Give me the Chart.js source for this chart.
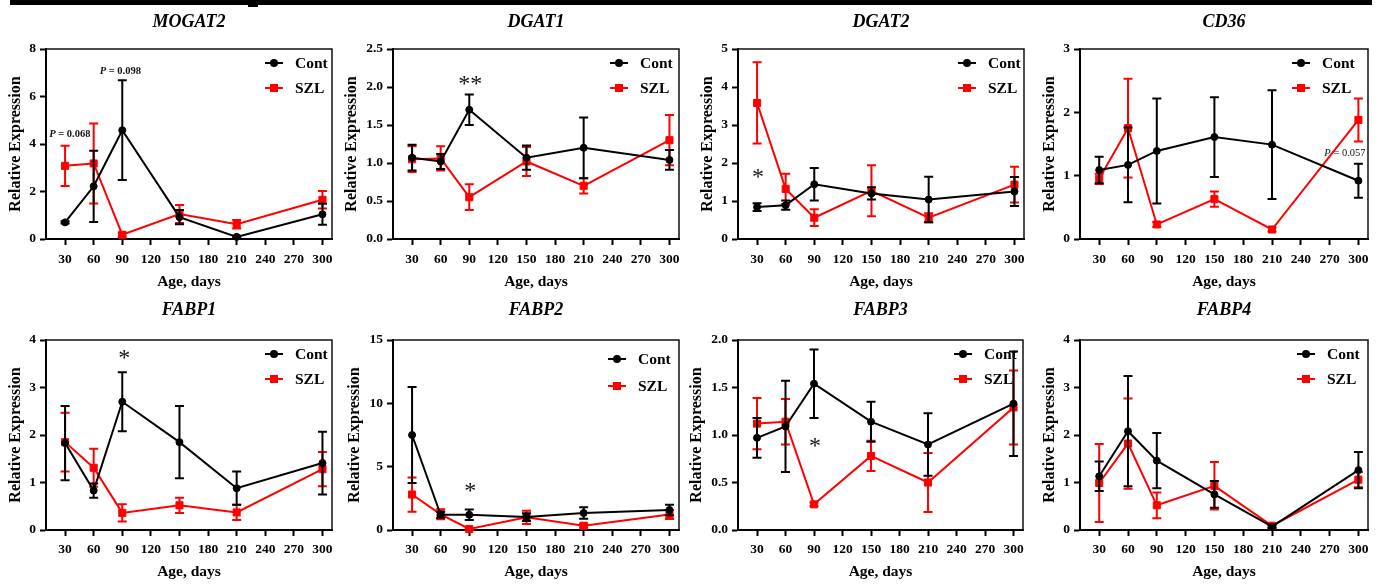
<!DOCTYPE html>
<html>
<head>
<meta charset="utf-8">
<title>Relative expression by age</title>
<script src="https://cdn.jsdelivr.net/npm/chart.js@4.4.0/dist/chart.umd.min.js"></script>
<style>
  html, body { margin: 0; padding: 0; background: #fff; }
  #sheet { position: relative; width: 1380px; height: 584px; overflow: hidden; background: #fff; }
  .rule { position: absolute; background: #000; }
  .panel { position: absolute; }
</style>
</head>
<body>
<div id="sheet">
  <div class="rule" style="left:10px;top:0;width:1362px;height:5px"></div>
  <div class="rule" style="left:248px;top:0;width:10px;height:7px"></div>
</div>
<script>
// ages sampled and x tick labels
const ages = [30, 60, 90, 150, 210, 300];
const xTicks = [30, 60, 90, 120, 150, 180, 210, 240, 270, 300];

// MOGAT2
const mogat2Cont = [0.70, 2.22, 4.58, 0.92, 0.09, 1.04];
const mogat2ContSd = [0.05, 1.50, 2.10, 0.30, 0.05, 0.44];
const mogat2Szl = [3.08, 3.18, 0.18, 1.05, 0.62, 1.65];
const mogat2SzlSd = [0.85, 1.68, 0.08, 0.38, 0.18, 0.37];
const mogat2YTicks = [0, 2, 4, 6, 8];

// DGAT1
const dgat1Cont = [1.07, 1.02, 1.70, 1.07, 1.20, 1.04];
const dgat1ContSd = [0.17, 0.10, 0.20, 0.16, 0.40, 0.13];
const dgat1Szl = [1.05, 1.06, 0.55, 1.02, 0.70, 1.30];
const dgat1SzlSd = [0.17, 0.16, 0.17, 0.19, 0.10, 0.33];
const dgat1YTicks = [0, 0.5, 1, 1.5, 2, 2.5];

// DGAT2
const dgat2Cont = [0.84, 0.89, 1.44, 1.20, 1.04, 1.25];
const dgat2ContSd = [0.10, 0.12, 0.43, 0.16, 0.60, 0.38];
const dgat2Szl = [3.58, 1.32, 0.56, 1.27, 0.56, 1.43];
const dgat2SzlSd = [1.07, 0.40, 0.22, 0.67, 0.12, 0.47];
const dgat2YTicks = [0, 1, 2, 3, 4, 5];

// CD36
const cd36Cont = [1.09, 1.17, 1.39, 1.61, 1.49, 0.92];
const cd36ContSd = [0.21, 0.59, 0.83, 0.63, 0.86, 0.27];
const cd36Szl = [0.95, 1.75, 0.23, 0.63, 0.15, 1.88];
const cd36SzlSd = [0.08, 0.78, 0.04, 0.12, 0.03, 0.34];
const cd36YTicks = [0, 1, 2, 3];

// FABP1
const fabp1Cont = [1.83, 0.83, 2.70, 1.85, 0.88, 1.41];
const fabp1ContSd = [0.78, 0.15, 0.62, 0.76, 0.35, 0.66];
const fabp1Szl = [1.85, 1.31, 0.36, 0.52, 0.37, 1.28];
const fabp1SzlSd = [0.62, 0.40, 0.18, 0.16, 0.16, 0.36];
const fabp1YTicks = [0, 1, 2, 3, 4];

// FABP2
const fabp2Cont = [7.50, 1.20, 1.20, 1.02, 1.34, 1.58];
const fabp2ContSd = [3.78, 0.25, 0.42, 0.30, 0.45, 0.42];
const fabp2Szl = [2.80, 1.24, 0.08, 1.00, 0.34, 1.22];
const fabp2SzlSd = [1.35, 0.40, 0.08, 0.52, 0.15, 0.35];
const fabp2YTicks = [0, 5, 10, 15];

// FABP3
const fabp3Cont = [0.97, 1.09, 1.54, 1.14, 0.90, 1.33];
const fabp3ContSd = [0.21, 0.48, 0.36, 0.21, 0.33, 0.55];
const fabp3Szl = [1.12, 1.14, 0.27, 0.78, 0.50, 1.29];
const fabp3SzlSd = [0.27, 0.24, 0.02, 0.16, 0.31, 0.39];
const fabp3YTicks = [0, 0.5, 1, 1.5, 2];

// FABP4
const fabp4Cont = [1.13, 2.08, 1.46, 0.75, 0.07, 1.26];
const fabp4ContSd = [0.31, 1.16, 0.58, 0.28, 0.03, 0.38];
const fabp4Szl = [0.99, 1.82, 0.52, 0.93, 0.09, 1.06];
const fabp4SzlSd = [0.82, 0.95, 0.27, 0.50, 0.03, 0.16];
const fabp4YTicks = [0, 1, 2, 3, 4];

const SERIF = "'Times New Roman', 'Liberation Serif', serif";

const rows = [
  { top: 0, plotTop: 49, plotBottom: 239, titleY: 22, tickPad: 6, xTitlePad: 1 },
  { top: 292, plotTop: 340, plotBottom: 530, titleY: 310, tickPad: 5, xTitlePad: 3 }
];

const panels = [
  { title: 'MOGAT2', cont: mogat2Cont, contSd: mogat2ContSd, szl: mogat2Szl, szlSd: mogat2SzlSd, yTicks: mogat2YTicks, dec: 0,
    row: 0, plotLeft: 46, plotRight: 332, yLabelX: 16, legendDx: 37, legendDy: [14, 39],
    notes: [{ text: 'P = 0.068', x: 35, y: 4.42, kind: 'p', bold: true }, { text: 'P = 0.098', x: 88, y: 7.07, kind: 'p', bold: true }] },
  { title: 'DGAT1', cont: dgat1Cont, contSd: dgat1ContSd, szl: dgat1Szl, szlSd: dgat1SzlSd, yTicks: dgat1YTicks, dec: 1,
    row: 0, plotLeft: 393, plotRight: 679, yLabelX: 352, legendDx: 39, legendDy: [14, 39],
    notes: [{ text: '**', x: 91, y: 2.09, kind: 'star' }] },
  { title: 'DGAT2', cont: dgat2Cont, contSd: dgat2ContSd, szl: dgat2Szl, szlSd: dgat2SzlSd, yTicks: dgat2YTicks, dec: 0,
    row: 0, plotLeft: 738, plotRight: 1024, yLabelX: 708, legendDx: 36, legendDy: [14, 39],
    notes: [{ text: '*', x: 31, y: 1.74, kind: 'star' }] },
  { title: 'CD36', cont: cd36Cont, contSd: cd36ContSd, szl: cd36Szl, szlSd: cd36SzlSd, yTicks: cd36YTicks, dec: 0,
    row: 0, plotLeft: 1080, plotRight: 1368, yLabelX: 1050, legendDx: 46, legendDy: [14, 39],
    notes: [{ text: 'P = 0.057', x: 286, y: 1.36, kind: 'p', bold: false }] },
  { title: 'FABP1', cont: fabp1Cont, contSd: fabp1ContSd, szl: fabp1Szl, szlSd: fabp1SzlSd, yTicks: fabp1YTicks, dec: 0,
    row: 1, plotLeft: 46, plotRight: 332, yLabelX: 16, legendDx: 37, legendDy: [14, 39],
    notes: [{ text: '*', x: 92, y: 3.7, kind: 'star' }] },
  { title: 'FABP2', cont: fabp2Cont, contSd: fabp2ContSd, szl: fabp2Szl, szlSd: fabp2SzlSd, yTicks: fabp2YTicks, dec: 0,
    row: 1, plotLeft: 393, plotRight: 679, yLabelX: 355, legendDx: 41, legendDy: [19, 46],
    notes: [{ text: '*', x: 91, y: 3.39, kind: 'star' }] },
  { title: 'FABP3', cont: fabp3Cont, contSd: fabp3ContSd, szl: fabp3Szl, szlSd: fabp3SzlSd, yTicks: fabp3YTicks, dec: 1,
    row: 1, plotLeft: 738, plotRight: 1023, yLabelX: 697, legendDx: 39, legendDy: [14, 39],
    notes: [{ text: '*', x: 91, y: 0.93, kind: 'star' }] },
  { title: 'FABP4', cont: fabp4Cont, contSd: fabp4ContSd, szl: fabp4Szl, szlSd: fabp4SzlSd, yTicks: fabp4YTicks, dec: 0,
    row: 1, plotLeft: 1080, plotRight: 1368, yLabelX: 1050, legendDx: 41, legendDy: [14, 39],
    notes: [] }
];

// error bars, drawn just before each series so markers sit on top
const errorBarPlugin = {
  id: 'errorBars',
  beforeDatasetDraw(chart, args) {
    const ds = chart.data.datasets[args.index];
    if (!ds.errors) return;
    const yScale = chart.scales.y;
    const ctx = chart.ctx;
    ctx.save();
    ctx.strokeStyle = ds.borderColor;
    ctx.lineWidth = 2;
    args.meta.data.forEach((pt, i) => {
      const v = ds.data[i].y;
      const e = ds.errors[i];
      const yTop = yScale.getPixelForValue(v + e);
      const yBot = yScale.getPixelForValue(v - e);
      const x = pt.x;
      ctx.beginPath();
      ctx.moveTo(x, yTop); ctx.lineTo(x, yBot);
      ctx.moveTo(x - 4.5, yTop); ctx.lineTo(x + 4.5, yTop);
      ctx.moveTo(x - 4.5, yBot); ctx.lineTo(x + 4.5, yBot);
      ctx.stroke();
    });
    ctx.restore();
  }
};

// frame, legend and significance notes (under the data)
const decorPlugin = {
  id: 'decor',
  beforeDatasetsDraw(chart) {
    const p = chart.options.plugins.decor;
    const ca = chart.chartArea;
    const ctx = chart.ctx;
    ctx.save();
    // top and right frame
    ctx.strokeStyle = '#111';
    ctx.lineWidth = 1.5;
    ctx.beginPath();
    ctx.moveTo(ca.left, ca.top);
    ctx.lineTo(ca.right, ca.top);
    ctx.lineTo(ca.right, ca.bottom);
    ctx.stroke();

    // legend
    const tx = ca.right - p.legendDx;
    chart.data.datasets.forEach((ds, i) => {
      const y = ca.top + p.legendDy[i];
      ctx.strokeStyle = ds.borderColor;
      ctx.fillStyle = ds.borderColor;
      ctx.lineWidth = 2;
      ctx.beginPath();
      ctx.moveTo(tx - 30, y);
      ctx.lineTo(tx - 12, y);
      ctx.stroke();
      if (ds.pointStyle === 'rect') {
        ctx.fillRect(tx - 25, y - 4, 8, 8);
      } else {
        ctx.beginPath();
        ctx.arc(tx - 21, y, 4, 0, Math.PI * 2);
        ctx.fill();
      }
      ctx.fillStyle = '#000';
      ctx.font = 'bold 15.5px ' + SERIF;
      ctx.textAlign = 'left';
      ctx.textBaseline = 'middle';
      ctx.fillText(ds.label, tx, y + 1);
    });

    // notes
    const xs = chart.scales.x, ys = chart.scales.y;
    p.notes.forEach(n => {
      const x = xs.getPixelForValue(n.x);
      const y = ys.getPixelForValue(n.y);
      ctx.fillStyle = '#111';
      if (n.kind === 'star') {
        ctx.font = '24px ' + SERIF;
        ctx.textAlign = 'center';
        ctx.textBaseline = 'alphabetic';
        ctx.fillText(n.text, x, y + 11);
      } else {
        const w = n.bold ? 'bold ' : '';
        const head = n.text.slice(0, 1), rest = n.text.slice(1);
        ctx.font = 'italic ' + w + '10.5px ' + SERIF;
        const hw = ctx.measureText(head).width;
        ctx.font = w + '10.5px ' + SERIF;
        const rw = ctx.measureText(rest).width;
        const x0 = x - (hw + rw) / 2;
        ctx.textAlign = 'left';
        ctx.textBaseline = 'middle';
        ctx.font = 'italic ' + w + '10.5px ' + SERIF;
        ctx.fillText(head, x0, y);
        ctx.font = w + '10.5px ' + SERIF;
        ctx.fillText(rest, x0 + hw, y);
      }
    });
    ctx.restore();
  }
};

const sheet = document.getElementById('sheet');

panels.forEach(p => {
  const row = rows[p.row];
  const yTitleSize = 16;
  const canvasLeft = Math.round(p.yLabelX - yTitleSize * 0.6 - 1);
  const rightPad = p.plotRight > 1300 ? 11 : 14;
  const width = p.plotRight + rightPad - canvasLeft;
  const height = 292;
  const yAxisW = p.plotLeft - canvasLeft;
  const xAxisH = row.top + height - row.plotBottom;
  const titlePadTop = row.titleY - row.top - 10.8;
  const titlePadBottom = row.plotTop - row.top - 21.6 - titlePadTop;

  const box = document.createElement('div');
  box.className = 'panel';
  box.style.left = canvasLeft + 'px';
  box.style.top = row.top + 'px';
  const canvas = document.createElement('canvas');
  canvas.width = width;
  canvas.height = height;
  box.appendChild(canvas);
  sheet.appendChild(box);

  const tickFont = { family: SERIF, size: 13.5, weight: 'bold' };

  new Chart(canvas.getContext('2d'), {
    type: 'line',
    data: {
      datasets: [
        {
          label: 'Cont',
          data: ages.map((a, i) => ({ x: a, y: p.cont[i] })),
          errors: p.contSd,
          borderColor: '#000000',
          backgroundColor: '#000000',
          borderWidth: 2,
          pointStyle: 'circle',
          pointRadius: 3.5,
          pointBorderWidth: 1,
          tension: 0,
          clip: 10
        },
        {
          label: 'SZL',
          data: ages.map((a, i) => ({ x: a, y: p.szl[i] })),
          errors: p.szlSd,
          borderColor: '#ff0000',
          backgroundColor: '#ff0000',
          borderWidth: 2,
          pointStyle: 'rect',
          pointRadius: 5,
          pointBorderWidth: 1,
          tension: 0,
          clip: 10
        }
      ]
    },
    options: {
      responsive: false,
      animation: false,
      layout: { padding: { left: 0, right: rightPad, top: 0, bottom: 0 } },
      plugins: {
        legend: { display: false },
        tooltip: { enabled: false },
        title: {
          display: true,
          text: p.title,
          fullSize: false,
          color: '#000',
          font: { family: SERIF, size: 18, weight: 'bold', style: 'italic' },
          padding: { top: titlePadTop, bottom: titlePadBottom }
        },
        decor: { legendDx: p.legendDx, legendDy: p.legendDy, notes: p.notes }
      },
      scales: {
        x: {
          type: 'linear',
          min: 10,
          max: 310,
          afterBuildTicks: s => { s.ticks = xTicks.map(v => ({ value: v })); },
          afterFit: s => { s.height = xAxisH; s.paddingLeft = 0; s.paddingRight = 0; },
          ticks: { color: '#000', font: tickFont, padding: row.tickPad, autoSkip: false, maxRotation: 0 },
          grid: { display: true, drawOnChartArea: false, drawTicks: true, tickLength: 6, tickWidth: 2, tickColor: '#000' },
          border: { display: true, color: '#000', width: 2 },
          title: {
            display: true,
            text: 'Age, days',
            color: '#000',
            font: { family: SERIF, size: 15.5, weight: 'bold' },
            padding: { top: 0, bottom: row.xTitlePad }
          }
        },
        y: {
          min: 0,
          max: p.yTicks[p.yTicks.length - 1],
          afterBuildTicks: s => { s.ticks = p.yTicks.map(v => ({ value: v })); },
          afterFit: s => { s.width = yAxisW; s.paddingTop = 0; s.paddingBottom = 0; },
          ticks: { color: '#000', font: tickFont, padding: 4, callback: v => Number(v).toFixed(p.dec) },
          grid: { display: true, drawOnChartArea: false, drawTicks: true, tickLength: 6, tickWidth: 2, tickColor: '#000' },
          border: { display: true, color: '#000', width: 2 },
          title: {
            display: true,
            text: 'Relative Expression',
            color: '#000',
            font: { family: SERIF, size: yTitleSize, weight: 'bold' },
            padding: { top: 1, bottom: 0 }
          }
        }
      }
    },
    plugins: [errorBarPlugin, decorPlugin]
  });
});
</script>
</body>
</html>
